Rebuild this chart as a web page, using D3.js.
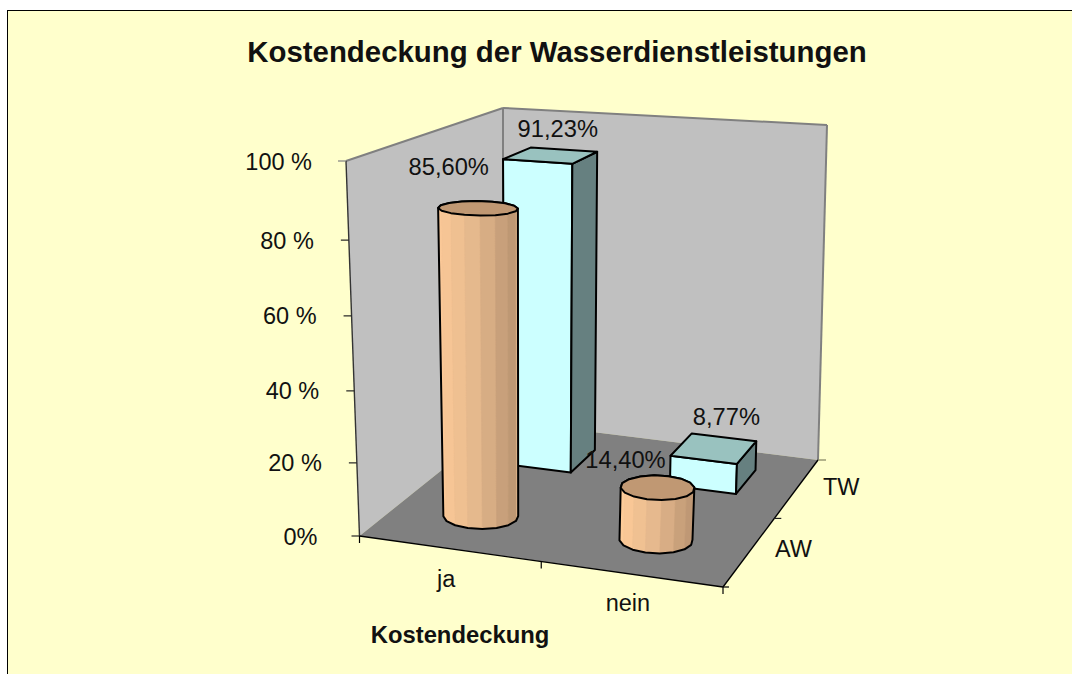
<!DOCTYPE html>
<html><head><meta charset="utf-8">
<script src="https://cdn.jsdelivr.net/npm/d3@7"></script>
<style>html,body{margin:0;padding:0;background:#fff}svg{display:block}text{font-family:"Liberation Sans",Arial,sans-serif;fill:#111}</style>
</head><body><svg id="c" width="1072" height="674"></svg>
<script>
const title = "Kostendeckung der Wasserdienstleistungen";
const xTitle = "Kostendeckung";
const categories = ["ja","nein"];
const series = ["AW","TW"];
const valuesAW = [85.60,14.40];
const valuesTW = [91.23,8.77];
const labelsAW = ["85,60%","14,40%"];
const labelsTW = ["91,23%","8,77%"];
const yTicks = [0,20,40,60,80,100];
const yTickLabels = ["0%","20 %","40 %","60 %","80 %","100 %"];

const W=1072,H=674;
const svg=d3.select("#c");
const uScale=d3.scaleBand(categories,[-.006,.994]).paddingInner(.6).paddingOuter(.3);
const vScale=d3.scalePoint(series,[.27,.775]);
const hScale=d3.scaleLinear([0,20,40,60,80,100],[0,.195,.387,.587,.789,1]);
const C={b00:[359.5,536],b10:[723,587],b01:[503,421],b11:[818,460],t00:[346,161],t10:[745,192],t01:[503,108],t11:[827,125]};
const mix=(a,b,t)=>[a[0]+(b[0]-a[0])*t,a[1]+(b[1]-a[1])*t];
function P(u,v,h){
  const b=mix(mix(C.b00,C.b10,u),mix(C.b01,C.b11,u),v);
  const t=mix(mix(C.t00,C.t10,u),mix(C.t01,C.t11,u),v);
  return mix(b,t,h);
}
const line=d3.line();
const poly=(pts,fill,stroke,sw)=>svg.append("path").attr("d",line(pts)+"Z").attr("fill",fill).attr("stroke",stroke||"none").attr("stroke-width",sw||0).attr("stroke-linejoin","round");
const seg=(a,b,col,sw)=>svg.append("line").attr("x1",a[0]).attr("y1",a[1]).attr("x2",b[0]).attr("y2",b[1]).attr("stroke",col).attr("stroke-width",sw);

svg.append("rect").attr("x",7).attr("y",10).attr("width",W-7).attr("height",H-10).attr("fill","#FFFFCC");
seg([7,10.5],[W,10.5],"#000",1);seg([7.5,10],[7.5,H],"#000",1);

poly([P(0,0,0),P(0,0,1),P(0,1,1),P(0,1,0)],"#C0C0C0");
poly([P(0,1,0),P(0,1,1),P(1,1,1),P(1,1,0)],"#C0C0C0");
poly([P(0,0,0),P(1,0,0),P(1,1,0),P(0,1,0)],"#808080");
[[P(0,0,1),P(0,1,1)],[P(0,1,1),P(1,1,1)],[P(1,1,1),P(1,1,0)],[P(0,1,1),P(0,1,0)]].forEach(s=>seg(s[0],s[1],"#808080",2));
seg(P(0,0,0),P(0,0,1),"#333",1.4);
seg(P(0,0,0),P(1,0,0),"#000",1.4);
seg(P(1,0,0),P(1,1,0),"#000",1.4);

const tickLabelGap=[34,27,27,27,27,26];
yTicks.forEach((d,i)=>{
  const p=P(0,0,hScale(d));
  seg([p[0]-8,p[1]],p,i==yTicks.length-1?"#808080":"#222",1.2);
  svg.append("text").attr("x",p[0]-8-tickLabelGap[i]).attr("y",p[1]+8.5).attr("text-anchor","end").attr("font-size",23.5).text(yTickLabels[i]);
});
[0,.5,1].forEach(u=>{const p=P(u,0,0);seg(p,[p[0],p[1]+7],"#000",1.2);});
const catLabelOffs=[[-2,38.5],[-2,37]];
categories.forEach((c,i)=>{
  const p=P(uScale(c)+uScale.bandwidth()/2,0,0);
  svg.append("text").attr("x",p[0]+catLabelOffs[i][0]).attr("y",p[1]+catLabelOffs[i][1]).attr("text-anchor","middle").attr("font-size",23.5).text(c);
});
[[0,6,"#000"],[.54,7,"#222"],[1,8,"#808060"]].forEach(t=>{const p=P(1,t[0],0);seg(p,[p[0]+t[1],p[1]],t[2],1.2);});
const depthLabelOffs=[[26.4,4.3],[26.4,6.4]];
series.forEach((s,i)=>{
  const p=P(1,vScale(s),0);
  svg.append("text").attr("x",p[0]+depthLabelOffs[i][0]).attr("y",p[1]+depthLabelOffs[i][1]).attr("text-anchor","start").attr("font-size",23.5).text(s);
});

const halfV=.095;
function box(cat,val){
  const u0=uScale(cat),u1=u0+uScale.bandwidth(),v0=vScale("TW")-halfV,v1=vScale("TW")+halfV,h=hScale(val);
  const sw=2;
  poly([P(u0,v0,0),P(u1,v0,0),P(u1,v0,h),P(u0,v0,h)],"#CCFFFF","#000",sw);
  poly([P(u1,v0,0),P(u1,v1,0),P(u1,v1,h),P(u1,v0,h)],"#668080","#000",sw);
  poly([P(u0,v0,h),P(u1,v0,h),P(u1,v1,h),P(u0,v1,h)],"#99C2BF","#000",sw);
}
const shade=d3.scaleLinear([0,.5,1],["#FFCC99","#E3B78C","#B79270"]);
function cyl(cat,val){
  const uc=uScale(cat)+uScale.bandwidth()/2-.008,vc=vScale("AW"),h=hScale(val),ru=.1,rv=.1,n=16;
  const ring=hh=>d3.range(n).map(i=>{const a=i/n*2*Math.PI;return P(uc+ru*Math.cos(a),vc+rv*Math.sin(a),hh);});
  const bot=ring(0),top=ring(h);
  const hull=d3.polygonHull(bot.concat(top));
  poly(hull,"#E3B78C");
  const xs=hull.map(p=>p[0]),xmin=d3.min(xs),xmax=d3.max(xs);
  const f=(an,hh)=>P(uc+ru*Math.cos(an),vc+rv*Math.sin(an),hh);
  for(let i=0;i<n/2;i++){
    const a=Math.PI+(i/(n/2))*Math.PI,b=Math.PI+((i+1)/(n/2))*Math.PI;
    const q=[f(a,0),f(b,0),f(b,h),f(a,h)];
    const cx=(q[0][0]+q[1][0])/2;
    const col=shade((cx-xmin)/(xmax-xmin));
    poly(q,col,col,.6);
  }
  poly(hull,"none","#000",2);
  poly(top,"#C09873","#000",2);
}
categories.forEach((c,i)=>box(c,valuesTW[i]));
categories.forEach((c,i)=>cyl(c,valuesAW[i]));

const offsAW=[[-32.5,-34],[-35,-20]],offsTW=[[7,-19],[12.5,-24]];
const label=(c,s,val,t,o)=>{
  const p=P(uScale(c)+uScale.bandwidth()/2,vScale(s),hScale(val));
  svg.append("text").attr("x",p[0]+o[0]).attr("y",p[1]+o[1]).attr("text-anchor","middle").attr("font-size",23.7).text(t);
};
categories.forEach((c,i)=>{label(c,"TW",valuesTW[i],labelsTW[i],offsTW[i]);label(c,"AW",valuesAW[i],labelsAW[i],offsAW[i]);});

svg.append("text").attr("x",557).attr("y",62).attr("text-anchor","middle").attr("font-size",29.4).attr("font-weight","bold").text(title);
svg.append("text").attr("x",460).attr("y",643).attr("text-anchor","middle").attr("font-size",23.8).attr("font-weight","bold").text(xTitle);
</script></body></html>
